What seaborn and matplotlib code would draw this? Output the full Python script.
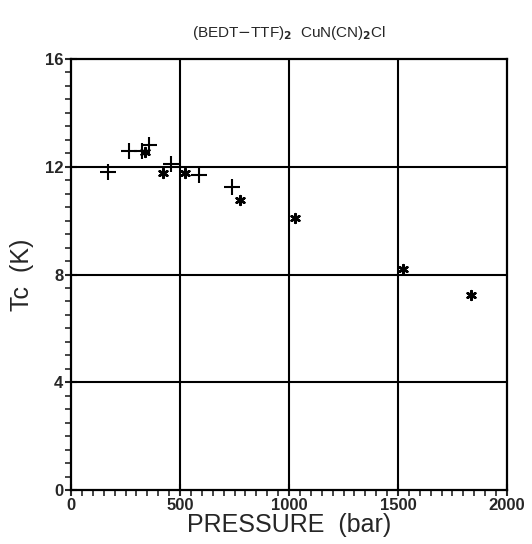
import matplotlib
matplotlib.use("Agg")
import matplotlib.pyplot as plt
from matplotlib.ticker import MultipleLocator
import seaborn as sns
import pandas as pd

# Data
plus_pressure = [170, 265, 325, 360, 457, 589, 737]
plus_tc = [11.8, 12.6, 12.6, 12.8, 12.1, 11.7, 11.25]
star_pressure = [340, 420, 523, 775, 1027, 1525, 1833]
star_tc = [12.55, 11.75, 11.75, 10.75, 10.1, 8.2, 7.25]

df = pd.DataFrame({
    "pressure": plus_pressure + star_pressure,
    "tc": plus_tc + star_tc,
    "kind": ["plus"] * len(plus_pressure) + ["star"] * len(star_pressure),
})

sns.set_style("white")
plt.rcParams['font.family'] = ['Liberation Sans', 'DejaVu Sans']

fig = plt.figure(figsize=(5.32, 5.44), dpi=100)
ax = fig.add_axes([0.1335, 0.0993, 0.953 - 0.1335, 0.8915 - 0.0993])

# grid lines
for y in [4, 8, 12]:
    ax.axhline(y, color="black", lw=1.5, zorder=1)
for x in [500, 1000, 1500]:
    ax.axvline(x, color="black", lw=1.5, zorder=1)

sns.scatterplot(data=df[df.kind == "plus"], x="pressure", y="tc", marker="+",
                s=130, color="black", linewidth=1.5, ax=ax, zorder=3, legend=False)
sns.scatterplot(data=df[df.kind == "star"], x="pressure", y="tc", marker=(6, 2, 0),
                s=40, color="black", linewidth=1.8, edgecolor="black", ax=ax, zorder=3, legend=False)

ax.set_xlim(0, 2000)
ax.set_ylim(0, 16)
ax.xaxis.set_major_locator(MultipleLocator(500))
ax.xaxis.set_minor_locator(MultipleLocator(50))
ax.yaxis.set_major_locator(MultipleLocator(4))
ax.yaxis.set_minor_locator(MultipleLocator(0.5))
ax.tick_params(which="both", bottom=True, left=True, top=False, right=False)
ax.tick_params(which="major", direction="inout", length=9, width=1.5, labelsize=12, pad=1)
ax.tick_params(which="minor", direction="out", length=4, width=1.2)
for lab in ax.get_xticklabels() + ax.get_yticklabels():
    lab.set_fontweight("bold")
for sp in ax.spines.values():
    sp.set_color("black")
    sp.set_linewidth(1.6)

ax.set_xlabel("PRESSURE  (bar)", fontsize=18, labelpad=0)
ax.set_ylabel("Tc  (K)", fontsize=18, labelpad=8)
ax.set_title(r"(BEDT$-$TTF)$_{\mathbf{2}}$  CuN(CN)$_{\mathbf{2}}$Cl", fontsize=11, pad=16)

fig.savefig("out.png", dpi=100)
